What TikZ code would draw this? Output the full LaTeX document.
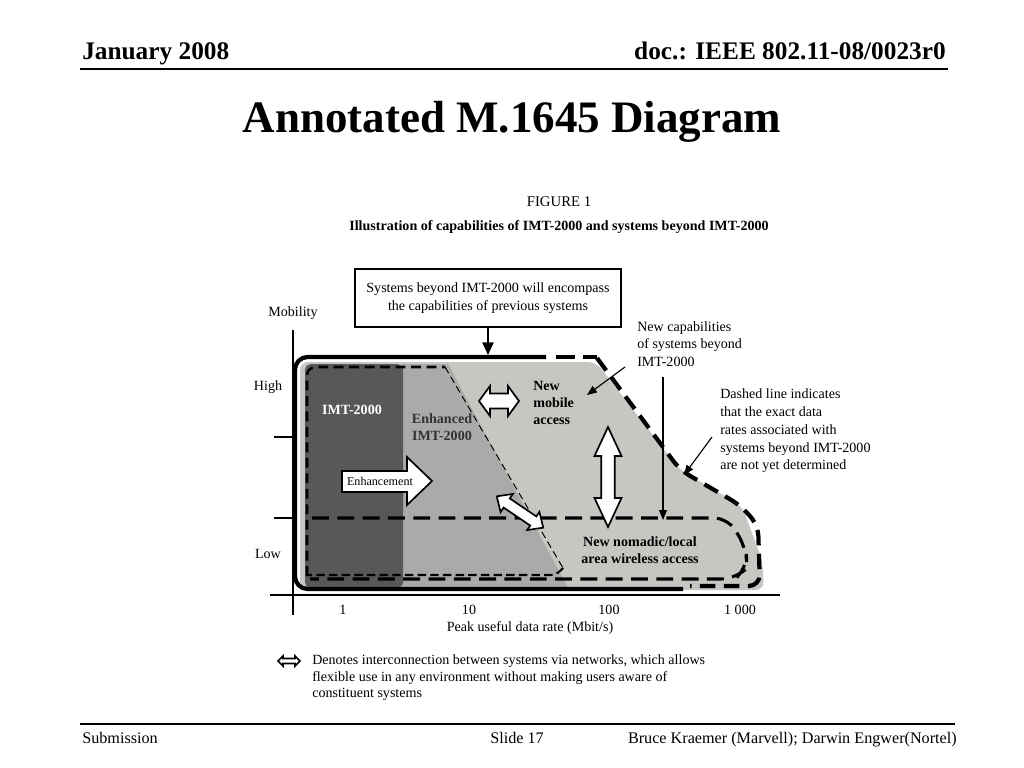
\documentclass[tikz,border=0pt]{standalone}
\usepackage{fontspec}
\setmainfont{Liberation Serif}
\usetikzlibrary{arrows.meta,positioning}
\definecolor{fieldgray}{RGB}{198,198,194}
\definecolor{enhgray}{RGB}{170,170,168}
\definecolor{imtgray}{RGB}{88,88,88}

% hollow arrow with two heads: centre, angle, half length, head length, half head width
\newcommand{\twoway}[5]{%
  \draw[blockarrow,shift={#1},rotate=#2]
    (-#3,0) -- (-#3+#4,#5) -- (-#3+#4,#5/2) -- (#3-#4,#5/2) -- (#3-#4,#5)
    -- (#3,0) -- (#3-#4,-#5) -- (#3-#4,-#5/2) -- (-#3+#4,-#5/2) -- (-#3+#4,-#5) -- cycle;}

\begin{document}
\begin{tikzpicture}[x=0.025cm,y=-0.025cm,
  note/.style={font=\fontsize{10}{12.6}\selectfont,align=left,inner sep=0pt},
  zone/.style={font=\bfseries\fontsize{10}{12.2}\selectfont,inner sep=0pt},
  ticklbl/.style={font=\fontsize{10}{12}\selectfont,inner sep=0pt},
  blockarrow/.style={draw=black,fill=white,line width=1.2pt,line join=miter},
  pointer/.style={-{Triangle[length=7pt,width=5.5pt]},line width=0.8pt}]
\useasboundingbox[fill=white] (0,0) rectangle (1024,768);

% slide header
\node[anchor=base west,font=\bfseries\fontsize{18}{20}\selectfont,inner sep=0pt] (month) at (82,60) {January 2008};
\node[anchor=base east,font=\bfseries\fontsize{18}{20}\selectfont,inner sep=0pt] (docnum) at (946,60) {doc.: IEEE 802.11-08/0023r0};
\draw[line width=1.5pt] (80,69) -- (948,69);
\node[anchor=base,font=\bfseries\fontsize{32}{36}\selectfont,inner sep=0pt] (title) at (512,133) {Annotated M.1645 Diagram};

% figure heading
\node[font=\fontsize{10.5}{12}\selectfont] (fignum) at (559,202) {FIGURE 1};
\node[font=\bfseries\fontsize{10}{12}\selectfont] (figcap) at (559,227) {Illustration of capabilities of IMT-2000 and systems beyond IMT-2000};

% shaded areas
\fill[fieldgray,rounded corners=6] (300,362) -- (596,362) -- (680,470) -- (742,506) -- (762,560) -- (764,590) -- (300,590) -- cycle;
\fill[enhgray] (402,364) -- (448,364) -- (568,588) -- (402,588) -- cycle;
\fill[imtgray,rounded corners=4] (305,364) rectangle (403,588);

% axes
\draw[line width=2pt] (293,330) -- (293,615);
\draw[line width=2pt] (270,595) -- (780,595);
\draw[line width=2pt] (274,437) -- (293,437);
\draw[line width=2pt] (274,518) -- (293,518);

% outer envelope
\draw[line width=3pt,rounded corners=9] (683,589) -- (295,589) -- (295,357) -- (546,357);
\draw[line width=3pt] (556,357) -- (575,357) (583,357) -- (597,357);
\draw[line width=3pt,dash pattern=on 11pt off 6pt,rounded corners=8] (597,358) -- (680,470) -- (740,505) -- (758,525) -- (760,586) -- (690,586);

% IMT-2000 and enhanced IMT-2000
\draw[line width=1.8pt,dash pattern=on 7pt off 4pt,rounded corners=6] (307,576) -- (307,367) -- (445,367);
\draw[line width=0.7pt,dash pattern=on 5pt off 3pt] (445,367) -- (563,568);
\draw[line width=1.5pt,dash pattern=on 6pt off 3pt,rounded corners=4] (563,568) -- (556,575) -- (307,575);

% nomadic / local area
\draw[line width=2.2pt,dash pattern=on 12pt off 6pt,rounded corners=10] (312,518) -- (728,518) -- (746,548) -- (747,568) -- (735,579) -- (310,579);

% labels in the field
\node[zone,text=white] (imt) at (352,410) {IMT-2000};
\node[zone,align=center,text=black!80] (enhimt) at (442,427) {Enhanced\\IMT-2000};
\node[zone,align=left,anchor=west] (mobile) at (533,403) {New\\mobile\\access};
\node[zone,align=center] (nomadic) at (640,550) {New nomadic/local\\area wireless access};

% block arrows
\draw[blockarrow] (342,471) -- (407,471) -- (407,457) -- (432,481) -- (407,505) -- (407,492) -- (342,492) -- cycle;
\node[font=\fontsize{8.6}{10}\selectfont,inner sep=0pt] (enhance) at (380,481) {Enhancement};
\twoway{(499,401)}{0}{20}{11}{15}
\twoway{(608,477)}{90}{50}{29}{13.5}
\twoway{(520,512)}{-34}{28}{12}{11}

% axis labels
\node[ticklbl] (mob) at (293,313) {Mobility};
\node[ticklbl] (high) at (268,387) {High};
\node[ticklbl] (low) at (268,554) {Low};
\node[ticklbl] (one) at (343,610) {1};
\node[ticklbl] (ten) at (469,610) {10};
\node[ticklbl] (hundred) at (609,610) {100};
\node[ticklbl] (thousand) at (740,610) {1 000};
\node[ticklbl] (rate) at (530,628) {Peak useful data rate (Mbit/s)};

% top box
\node[draw,line width=1.5pt,minimum width=6.65cm,minimum height=1.43cm,align=center,
      font=\fontsize{10}{12.8}\selectfont,inner sep=0pt] (encompass) at (488,298)
  {Systems beyond IMT-2000 will encompass\\the capabilities of previous systems};
\coordinate (envtop) at (488,355);
\draw[-{Triangle[length=9pt,width=8pt]},line width=1.3pt] (encompass) -- (envtop);

% callouts
\node[note,anchor=west] (newcap) at (637,344) {New capabilities\\of systems beyond\\IMT-2000};
\coordinate (capfrom) at (625,367);
\coordinate (capto) at (587,395);
\draw[pointer] (capfrom) -- (capto);
\coordinate (limitfrom) at (663,377);
\coordinate (limitto) at (663,520);
\draw[pointer] (limitfrom) -- (limitto);

\node[note,anchor=west] (dashnote) at (720,431) {Dashed line indicates\\that the exact data\\rates associated with\\systems beyond IMT-2000\\are not yet determined};
\coordinate (notefrom) at (712,437);
\coordinate (noteto) at (684,475);
\draw[pointer] (notefrom) -- (noteto);

% legend
\twoway{(289,661)}{0}{11}{5}{5}
\node[note,font=\fontsize{10}{11.7}\selectfont,anchor=west] (legend) at (312,678) {Denotes interconnection between systems via networks, which allows\\flexible use in any environment without making users aware of\\constituent systems};

% slide footer
\draw[line width=1pt] (80,724) -- (955,724);
\node[anchor=base west,font=\fontsize{11.5}{13}\selectfont,inner sep=0pt] (sub) at (82,743) {Submission};
\node[anchor=base west,font=\fontsize{11.5}{13}\selectfont,inner sep=0pt] (slide) at (490,743) {Slide 17};
\node[anchor=base east,font=\fontsize{11.5}{13}\selectfont,inner sep=0pt] (authors) at (957,743) {Bruce Kraemer (Marvell); Darwin Engwer(Nortel)};
\end{tikzpicture}
\end{document}
